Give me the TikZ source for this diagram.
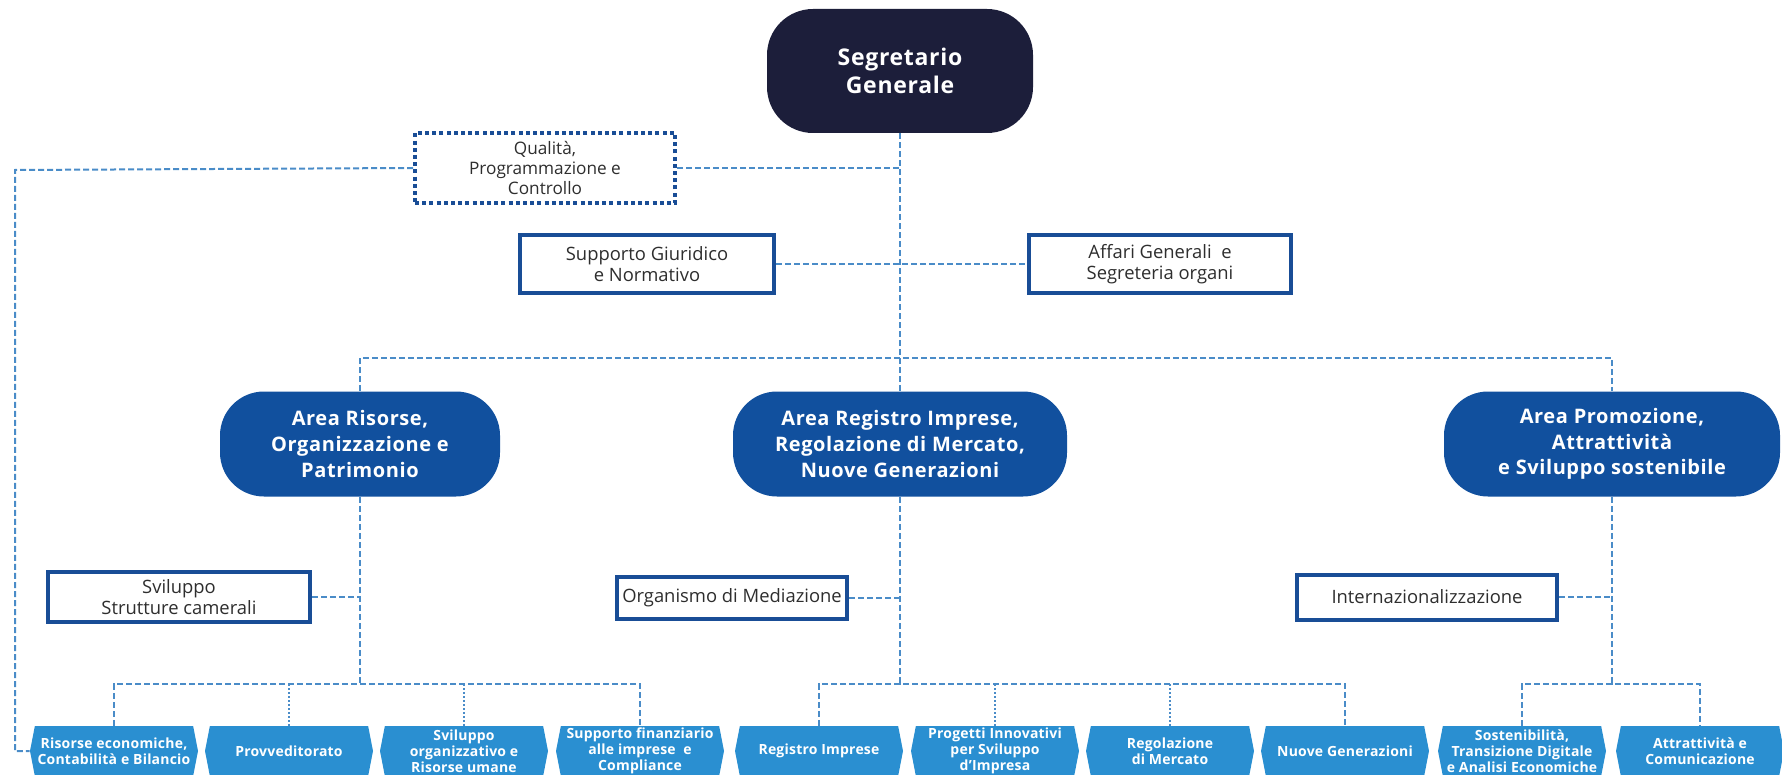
\documentclass[tikz,border=0pt]{standalone}
\usepackage{fontspec}
\setmainfont{Open Sans}
\newfontfamily\headfont{Open Sans}[LetterSpace=3]
\newfontfamily\unitfont{Open Sans}[LetterSpace=1.5]
\usepackage{xcolor}
\usetikzlibrary{positioning, shapes.symbols}
\definecolor{navy}{HTML}{1C1E3A}
\definecolor{areablue}{HTML}{11509E}
\definecolor{unitblue}{HTML}{2A8FD1}
\definecolor{edgeblue}{HTML}{194D96}
\definecolor{linkblue}{HTML}{4A8CC8}
\definecolor{textgray}{HTML}{2E2E2E}

\begin{document}
\begin{tikzpicture}[x=0.5pt, y=-0.5pt,
    topbox/.style={rectangle, rounded corners=23pt, fill=navy, text=white, align=center,
        minimum width=133pt, minimum height=62pt,
        font=\headfont\bfseries\fontsize{11.5}{14}\selectfont},
    areabox/.style={rectangle, rounded corners=22pt, fill=areablue, text=white, align=center,
        minimum height=52.5pt, font=\headfont\bfseries\fontsize{10}{12.8}\selectfont},
    unitbox/.style={signal, signal to=west and east, signal pointer angle=158, fill=unitblue,
        text=white, align=center, minimum width=84pt, minimum height=25pt, inner sep=0pt,
        font=\unitfont\bfseries\fontsize{7}{8}\selectfont},
    staffbox/.style={rectangle, draw=edgeblue, line width=2pt, fill=white, text=textgray,
        align=center, inner sep=0pt, font=\fontsize{9.2}{10.5}\selectfont},
    qualbox/.style={staffbox, dash pattern=on 2pt off 1.6pt, font=\fontsize{8.6}{9.8}\selectfont},
    link/.style={draw=linkblue, line width=1pt, dash pattern=on 3pt off 1.5pt},
    drop/.style={draw=linkblue, line width=1.2pt, dash pattern=on 1pt off 1pt}]
    \useasboundingbox (0,0) rectangle (1782,775);
    % vertici
    \node[topbox] (sg) at (900,71) {Segretario\\Generale};
    \node[qualbox, minimum width=130pt, minimum height=35pt] (qpc) at (545,168)
        {Qualità,\\Programmazione e\\Controllo};
    \node[staffbox, minimum width=127pt, minimum height=29pt] (sgn) at (647,264)
        {Supporto Giuridico\\e Normativo};
    \node[staffbox, minimum width=131pt, minimum height=29pt] (ags) at (1160,264)
        {Affari Generali\ \ e\\Segreteria organi};
    % aree
    \node[areabox, minimum width=140pt] (ar)  at (360,444)  {Area Risorse,\\Organizzazione e\\Patrimonio};
    \node[areabox, minimum width=167pt] (arm) at (900,444)  {Area Registro Imprese,\\Regolazione di Mercato,\\Nuove Generazioni};
    \node[areabox, minimum width=168pt] (ap)  at (1612,444) {Area Promozione,\\Attrattività\\e Sviluppo sostenibile};
    \node[staffbox, minimum width=131pt, minimum height=25pt] (sv) at (179,597)
        {Sviluppo\\Strutture camerali};
    \node[staffbox, minimum width=115pt, minimum height=21pt] (om) at (732,598)
        {Organismo di Mediazione};
    \node[staffbox, minimum width=130pt, minimum height=22.5pt] (int) at (1427,597)
        {Internazionalizzazione};
    % servizi
    \node[unitbox] (b1)  at (114,751)  {Risorse economiche,\\Contabilità e Bilancio};
    \node[unitbox] (b2)  at (289,751)  {Provveditorato};
    \node[unitbox] (b3)  at (464,751)  {Sviluppo\\organizzativo e\\Risorse umane};
    \node[unitbox] (b4)  at (640,751)  {Supporto finanziario\\alle imprese\ \ e\\Compliance};
    \node[unitbox] (b5)  at (819,751)  {Registro Imprese};
    \node[unitbox] (b6)  at (995,751)  {Progetti Innovativi\\per Sviluppo\\d’Impresa};
    \node[unitbox] (b7)  at (1170,751) {Regolazione\\di Mercato};
    \node[unitbox] (b8)  at (1345,751) {Nuove Generazioni};
    \node[unitbox] (b9)  at (1522,751) {Sostenibilità,\\Transizione Digitale\\e Analisi Economiche};
    \node[unitbox] (b10) at (1700,751) {Attrattività e\\Comunicazione};
    \coordinate (lft) at (15,170);
    \coordinate (top) at (900,358);
    \coordinate (rj)  at (360,684);
    \coordinate (mj)  at (900,684);
    \coordinate (pj)  at (1612,684);
    % collegamenti
    \draw[link] (sg.south) -- (arm.north);
    \draw[link] (qpc.east) -- (qpc.east -| sg.south);
    \draw[link] (qpc.west) -- (lft) |- (b1.west);
    \draw[link] (sgn.east) -- (ags.west);
    \draw[link] (ar.north) |- (top) -| (ap.north);
    \draw[link] (ar.south) -- (rj);
    \draw[link] (arm.south) -- (mj);
    \draw[link] (ap.south) -- (pj);
    \draw[link] (sv.east) -- (sv.east -| ar.south);
    \draw[link] (om.east) -- (om.east -| arm.south);
    \draw[link] (int.east) -- (int.east -| ap.south);
    \draw[link] (b1.north) |- (rj) -| (b4.north);
    \draw[link] (b5.north) |- (mj) -| (b8.north);
    \draw[link] (b9.north) |- (pj) -| (b10.north);
    \draw[drop] (b2.north) -- (b2.north |- rj);
    \draw[drop] (b3.north) -- (b3.north |- rj);
    \draw[drop] (b6.north) -- (b6.north |- mj);
    \draw[drop] (b7.north) -- (b7.north |- mj);
\end{tikzpicture}
\end{document}
